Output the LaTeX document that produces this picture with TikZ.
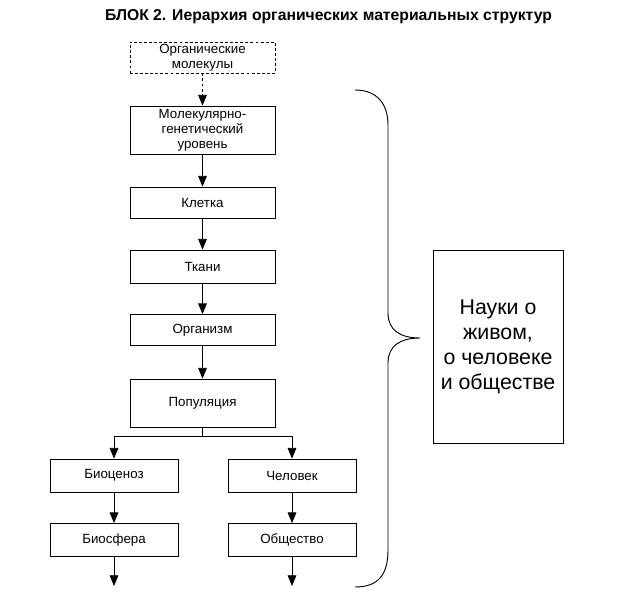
\documentclass[tikz,border=0pt]{standalone}
\usepackage{fontspec}
\setmainfont{Liberation Sans}
\usetikzlibrary{arrows.meta}
\tikzset{
  block/.style   = { draw, rectangle, line width=0.6pt, align=center, inner sep=0pt,
                     font=\fontsize{10}{11.3}\selectfont },
  mainbox/.style = { block, minimum width=108.75pt, minimum height=#1 },
  sidebox/.style = { block, minimum width=96pt, minimum height=24.75pt },
  dashbox/.style = { mainbox=23.25pt, dash pattern=on 2.2pt off 1.6pt },
  link/.style    = { line width=0.6pt, -{Triangle[length=8pt,width=6.5pt]} },
  dashlink/.style = { link, dash pattern=on 2.2pt off 1.6pt },
  brace/.style   = { line width=0.7pt },
  headline/.style = { font=\bfseries\fontsize{11.8}{13}\selectfont }
}
\begin{document}
\begin{tikzpicture}[x=0.75pt,y=-0.75pt]
  \useasboundingbox (0,0) rectangle (623,599);

  % Draw title
  \node[headline] (title) at (328.5,17) {БЛОК 2. Иерархия органических материальных структур};

  % Draw all levels
  \node[dashbox] (molec) at (202.5,57.5) {Органические\\молекулы};
  \node[mainbox=36pt] (gene) at (202.5,130) {Молекулярно-\\генетический\\уровень};
  \node[mainbox=23.25pt] (cell) at (202.5,202.5) {Клетка};
  \node[mainbox=24.75pt] (tissue) at (202.5,266.5) {Ткани};
  \node[mainbox=23.25pt] (organism) at (202.5,330) {Организм};
  \node[mainbox=36pt] (popul) at (202.5,403) {Популяция};

  \node[sidebox] (biocen) at (114,475.5) {Биоценоз};
  \node[sidebox] (human) at (292,475.5) {Человек};
  \node[sidebox] (biosph) at (114,540) {Биосфера};
  \node[sidebox] (society) at (292,540) {Общество};

  \coordinate (split) at (202.5,436);
  \coordinate (endL) at (114,586);
  \coordinate (endR) at (292,586);

  % Draw connections
  \draw[dashlink] (molec) -- (gene);
  \draw[link] (gene) -- (cell);
  \draw[link] (cell) -- (tissue);
  \draw[link] (tissue) -- (organism);
  \draw[link] (organism) -- (popul);
  \draw[line width=0.6pt] (popul.south) -- (split);
  \draw[link] (split) -| (biocen.north);
  \draw[link] (split) -| (human.north);
  \draw[link] (biocen) -- (biosph);
  \draw[link] (human) -- (society);
  \draw[link] (biosph) -- (endL);
  \draw[link] (society) -- (endR);

  % Draw brace and sciences
  \draw[brace] (355,90) .. controls (378,90) and (388,105) .. (388,125)
    -- (388,313) .. controls (388,330) and (400,338) .. (420,338)
    .. controls (400,338) and (388,346) .. (388,363)
    -- (388,550) .. controls (388,575) and (378,587) .. (355,587);
  \node[block, minimum width=97.5pt, minimum height=144.75pt,
        font=\fontsize{16}{18.75}\selectfont] (science) at (498,346.5)
        {Науки о\\живом,\\о человеке\\и обществе};
\end{tikzpicture}
\end{document}
